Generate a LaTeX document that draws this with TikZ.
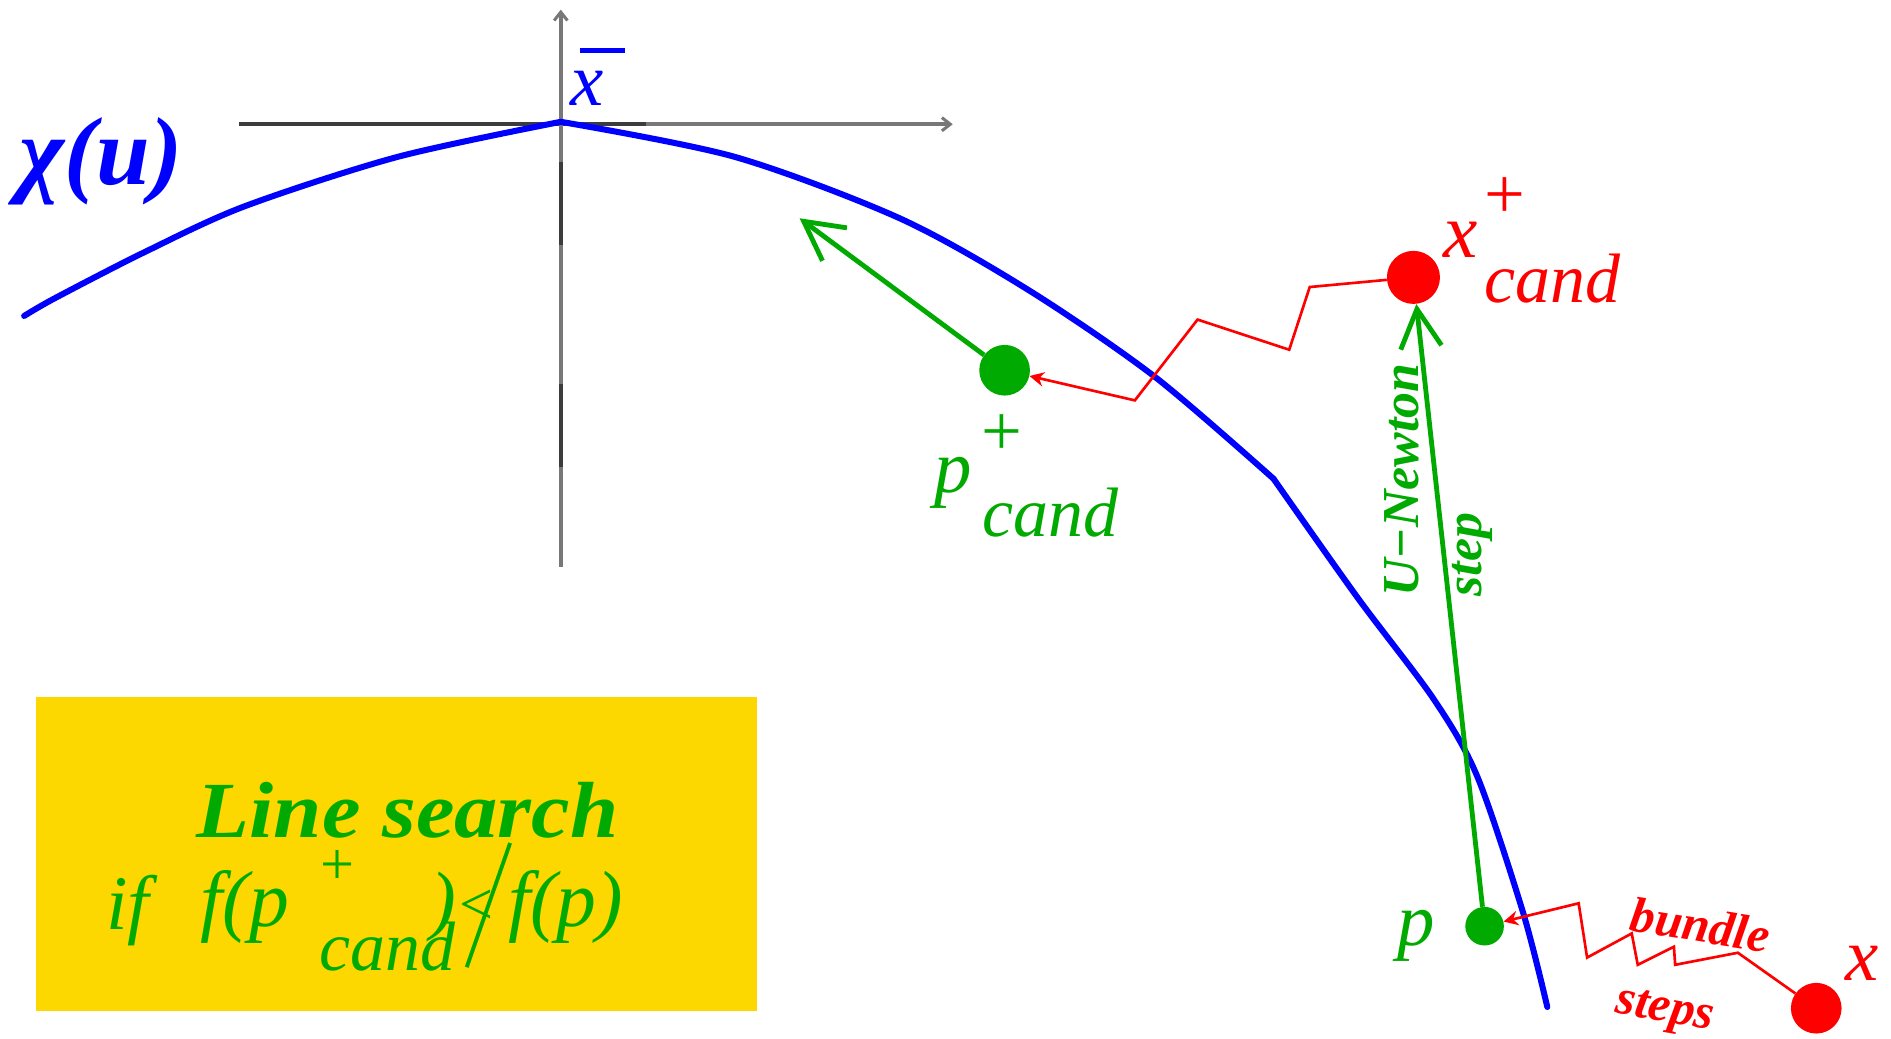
\documentclass[tikz,border=0pt]{standalone}
\usepackage{fontspec}
\usepackage{graphicx}
\setmainfont{Liberation Serif}
\usetikzlibrary{arrows.meta}
\definecolor{gr}{RGB}{0,170,0}
\definecolor{rd}{RGB}{255,0,0}
\definecolor{bl}{RGB}{0,0,255}
\definecolor{gold}{RGB}{253,215,0}
\definecolor{axdark}{RGB}{60,60,60}
\definecolor{axlight}{RGB}{120,120,120}
\newcommand\fsz[1]{\fontsize{#1}{#1}\selectfont}
\begin{document}
\begin{tikzpicture}[x=1pt,y=-1pt,
  lbl/.style={inner sep=0pt},
  dotnode/.style={circle, fill, inner sep=0pt},
  curve/.style={bl, line width=5pt, line join=round, line cap=round},
  garrow/.style={gr, line width=4pt, -{Straight Barb[length=32pt,width=34pt,line width=4pt]}},
  zig/.style={rd, line width=2.2pt, line join=miter, -{Stealth[length=12pt,width=12pt]}},
  axis/.style={line width=3pt},
  axtip/.style={-{Straight Barb[length=7pt,width=11pt,line width=2.5pt]}}]
\useasboundingbox (0,0) rectangle (1568,861);

% axes
\coordinate (hl) at (198,103);
\coordinate (hm) at (536,103);
\coordinate (hr) at (790,103);
\coordinate (vb) at (465,470);
\coordinate (v4) at (465,387);
\coordinate (v3) at (465,318);
\coordinate (v2) at (465,203);
\coordinate (v1) at (465,134);
\coordinate (vt) at (465,8);
\draw[axis, axdark] (hl) -- (hm);
\draw[axis, axlight, axtip] (hm) -- (hr);
\draw[axis, axlight] (vb) -- (v4);
\draw[axis, axdark] (v4) -- (v3);
\draw[axis, axlight] (v3) -- (v2);
\draw[axis, axdark] (v2) -- (v1);
\draw[axis, axlight, axtip] (v1) -- (vt);

% blue curve chi(u)
\draw[curve] plot[smooth, tension=0.5] coordinates {(20,262) (46,247) (120,209) (203,171) (330,130) (465,101)};
\draw[curve] plot[smooth, tension=0.5] coordinates {(465,101) (609,130) (746,181) (852,240) (957,312) (1056,397)};
\draw[curve] plot[smooth, tension=0.5] coordinates {(1056,397) (1126,496) (1189,580) (1225,644) (1263,757) (1283,835)};

% labels of the curve
\node[lbl, text=bl, font=\fsz{80}\bfseries\itshape] (chi) at (84,134) {χ(u)};
\node[lbl, text=bl, font=\fsz{62}\itshape] (xbar) at (487,73) {x};
\coordinate (barl) at (481,42);
\coordinate (barr) at (518,42);
\draw[bl, line width=4pt] (barl) -- (barr);

% yellow box
\node[fill=gold, minimum width=598pt, minimum height=260pt, inner sep=0pt] (box) at (329,708) {};
\node[lbl, text=gr, font=\fsz{66}\bfseries\itshape] (ls) at (338,672) {\scalebox{1.09}[1]{Line search}};
\node[lbl, text=gr, font=\fsz{64}\itshape] (lif) at (106,755) {if};
\node[lbl, text=gr, font=\fsz{66}\itshape] (lf1) at (203,752) {f(p};
\node[lbl, text=gr, font=\fsz{50}] (lplus) at (280,719) {+};
\node[lbl, text=gr, font=\fsz{58}\itshape] (lcand) at (321,785) {cand};
\node[lbl, text=gr, font=\fsz{64}\itshape] (lclose) at (368,752) {)};
\node[lbl, text=gr, font=\fsz{50}] (lless) at (395,752) {<};
\coordinate (sl1) at (423,699);
\coordinate (sl2) at (387,802);
\draw[gr, line width=3.2pt] (sl1) -- (sl2);
\node[lbl, text=gr, font=\fsz{66}\itshape] (lf2) at (469,752) {f(p)};

% dots
\node[dotnode, gr, minimum size=42pt] (pc) at (833,307) {};
\node[dotnode, rd, minimum size=44pt] (xc) at (1172,230) {};
\node[dotnode, gr, minimum size=32pt] (pdot) at (1231,768) {};
\node[dotnode, rd, minimum size=42pt] (xdot) at (1506,836) {};

% green arrows
\coordinate (pctip) at (663,181);
\draw[garrow] (pc) -- (pctip);
\draw[garrow] (pdot) -- (xc);

% red zigzags
\draw[zig] (xc) -- (1086,238) -- (1069,290) -- (993,265) -- (941,332) -- (pc);
\draw[zig] (xdot) -- (1441,790) -- (1389,800) -- (1388,785) -- (1358,800) -- (1353,774) -- (1316,794) -- (1309,749) -- (pdot);

% labels p_cand^+
\node[lbl, text=gr, font=\fsz{60}] (pcplus) at (831,361) {+};
\node[lbl, text=gr, font=\fsz{62}\itshape] (pcp) at (790,400) {p};
\node[lbl, text=gr, font=\fsz{58}\itshape] (pccand) at (871,425) {cand};

% labels x_cand^+
\node[lbl, text=rd, font=\fsz{60}] (xcplus) at (1248,164) {+};
\node[lbl, text=rd, font=\fsz{64}\itshape] (xcx) at (1211,199) {x};
\node[lbl, text=rd, font=\fsz{58}\itshape] (xccand) at (1287,231) {cand};

% U-Newton step
\node[lbl, text=gr, font=\fsz{43}\bfseries\itshape, rotate=90] (un) at (1162,398) {U−Newton};
\node[lbl, text=gr, font=\fsz{43}\bfseries\itshape, rotate=90] (st) at (1221,460) {step};

% p and x labels
\node[lbl, text=gr, font=\fsz{62}\itshape] (plab) at (1174,776) {p};
\node[lbl, text=rd, font=\fsz{62}\itshape] (xlab) at (1544,799) {x};

% bundle steps
\node[lbl, text=rd, font=\fsz{41}\bfseries\itshape, rotate=-9] (bun) at (1410,767) {bundle};
\node[lbl, text=rd, font=\fsz{41}\bfseries\itshape, rotate=-10] (stp) at (1380,840) {steps};
\end{tikzpicture}
\end{document}
